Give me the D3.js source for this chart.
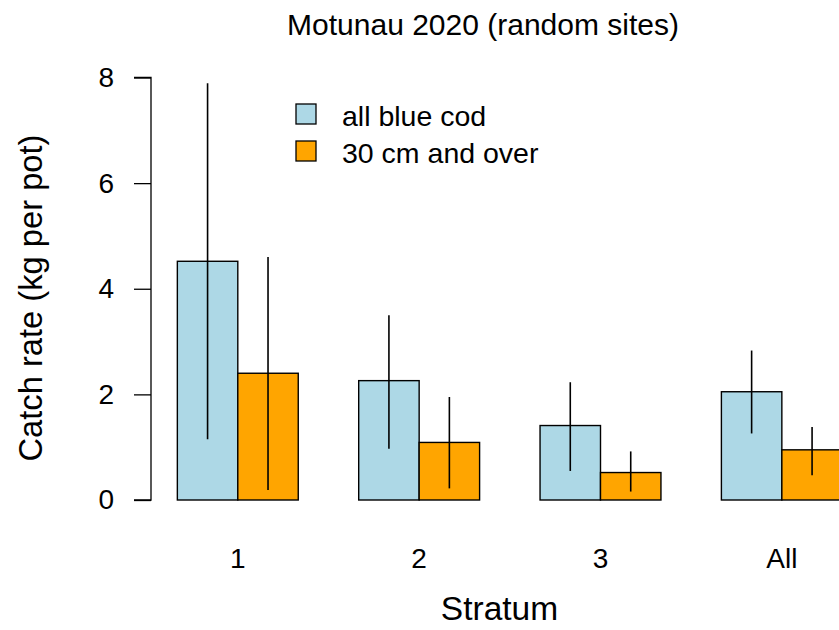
<!DOCTYPE html>
<html><head><meta charset="utf-8">
<script src="https://cdn.jsdelivr.net/npm/d3@7"></script>
<style>body{margin:0;background:#fff}svg{display:block;font-family:"Liberation Sans",Arial,sans-serif}</style>
</head><body><svg id="c" width="839" height="630"></svg>
<script>
const categories = ["1","2","3","All"];
const seriesNames = ["all blue cod","30 cm and over"];
const seriesColors = ["#ADD8E6","#FFA500"];
const allCod = [4.52, 2.26, 1.41, 2.05];
const allCodLo = [1.15, 0.97, 0.55, 1.26];
const allCodHi = [7.89, 3.50, 2.23, 2.83];
const over30 = [2.40, 1.09, 0.52, 0.95];
const over30Lo = [0.19, 0.22, 0.16, 0.47];
const over30Hi = [4.60, 1.95, 0.92, 1.38];
const yTicks = [0,2,4,6,8];

const svg = d3.select("#c");
const y = d3.scaleLinear().domain([0,8]).range([500,77.5]);
const x = d3.scaleLinear().domain([0,12]).range([116.9,842.3]);

const series = [
  {vals: allCod, lo: allCodLo, hi: allCodHi},
  {vals: over30, lo: over30Lo, hi: over30Hi}
];

series.forEach((s, si) => {
  svg.append("g").selectAll("rect").data(s.vals).join("rect")
    .attr("x", (d,i) => x(1 + 3*i + si))
    .attr("width", (d,i) => x(2 + 3*i + si) - x(1 + 3*i + si))
    .attr("y", d => y(d))
    .attr("height", d => y(0) - y(d))
    .attr("fill", seriesColors[si])
    .attr("stroke", "#000").attr("stroke-width", 1.4);
});
series.forEach((s, si) => {
  svg.append("g").selectAll("line").data(s.vals).join("line")
    .attr("x1", (d,i) => x(1.5 + 3*i + si))
    .attr("x2", (d,i) => x(1.5 + 3*i + si))
    .attr("y1", (d,i) => y(s.lo[i]))
    .attr("y2", (d,i) => y(s.hi[i]))
    .attr("stroke", "#000").attr("stroke-width", 1.6);
});

// y axis
const ax = svg.append("g").attr("transform","translate(151,0)")
  .call(d3.axisLeft(y).tickValues(yTicks).tickSize(17).tickPadding(20).tickFormat(d3.format("d")));
ax.attr("font-size",28).attr("font-family","Liberation Sans, Arial, sans-serif");
ax.select(".domain").attr("d", `M-17,${y(8)}H0V${y(0)}H-17`).attr("stroke-width",1.3);
ax.selectAll(".tick line").attr("stroke-width",1.3);
ax.selectAll("text").attr("fill","#000").style("font-size","28px");

// category labels
svg.append("g").selectAll("text").data(categories).join("text")
  .attr("x", (d,i) => x(2 + 3*i))
  .attr("y", 568)
  .attr("text-anchor","middle").attr("font-size",28)
  .text(d => d);

// titles
svg.append("text").attr("x",483).attr("y",35).attr("text-anchor","middle").attr("font-size",30)
  .text("Motunau 2020 (random sites)");
svg.append("text").attr("x",499.5).attr("y",620).attr("text-anchor","middle").attr("font-size",33.5)
  .text("Stratum");
svg.append("text").attr("transform","translate(42,298) rotate(-90)").attr("text-anchor","middle").attr("font-size",32.7)
  .text("Catch rate (kg per pot)");

// legend
const lg = svg.append("g");
seriesNames.forEach((n, i) => {
  lg.append("rect").attr("x",296).attr("y",104 + i*37).attr("width",20).attr("height",20)
    .attr("fill",seriesColors[i]).attr("stroke","#000").attr("stroke-width",1.3);
  lg.append("text").attr("x",342).attr("y",126 + i*37).attr("font-size",28.5).text(n);
});
</script></body></html>
